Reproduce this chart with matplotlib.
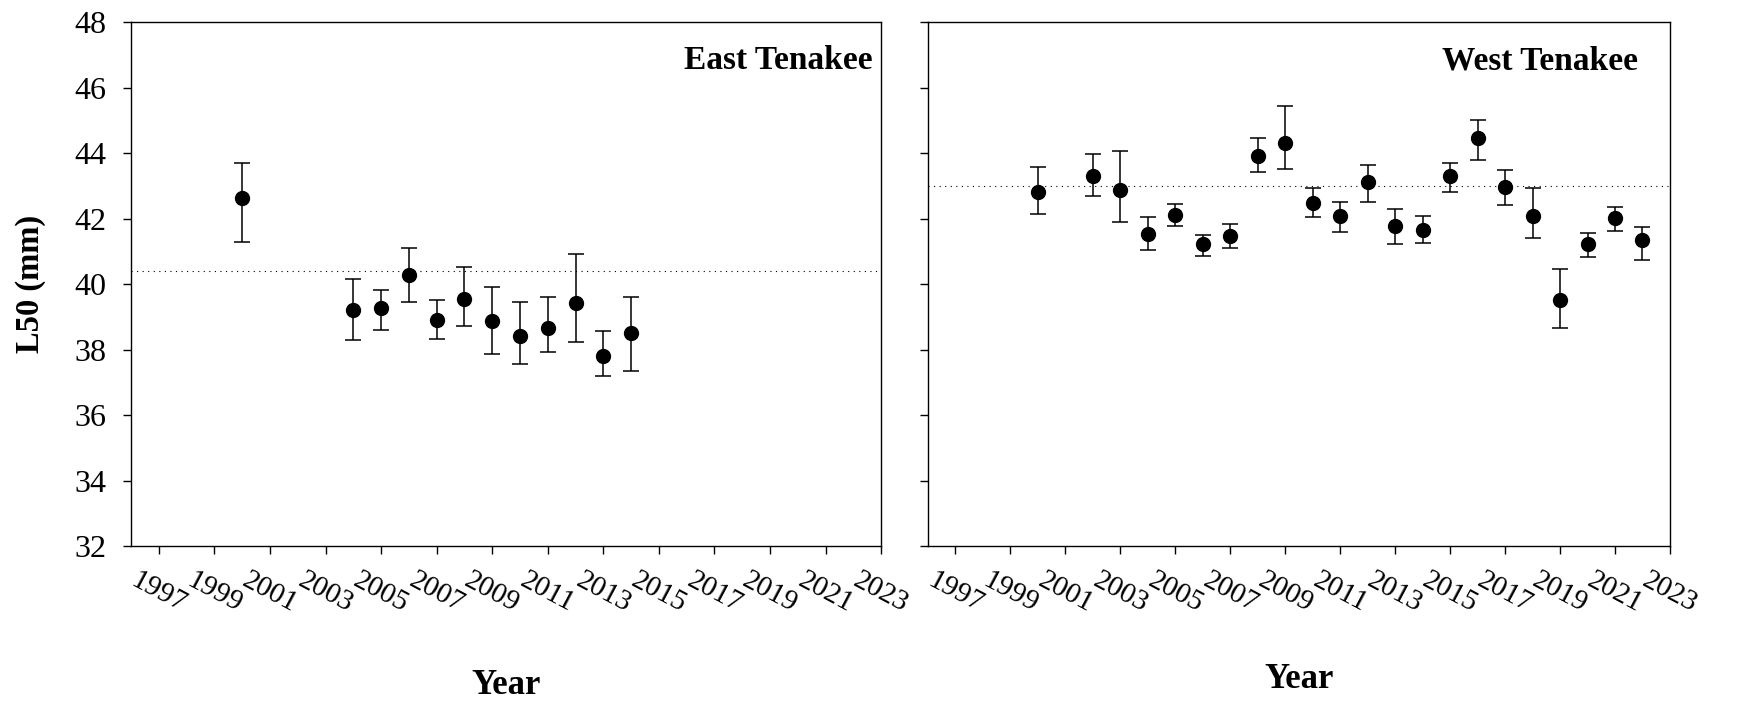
import numpy as np
import matplotlib
matplotlib.use("Agg")
import matplotlib.pyplot as plt
import matplotlib.transforms as mtransforms

plt.rcParams['font.family'] = ['Liberation Serif', 'DejaVu Serif']

# East Tenakee L50 estimates with lower / upper confidence bounds
east_years = [2000, 2004, 2005, 2006, 2007, 2008, 2009, 2010, 2011, 2012, 2013, 2014]
east_l50 = [42.62, 39.21, 39.26, 40.28, 38.90, 39.54, 38.88, 38.41, 38.67, 39.43, 37.81, 38.51]
east_lo = [41.28, 38.28, 38.60, 39.45, 38.32, 38.72, 37.86, 37.55, 37.92, 38.23, 37.20, 37.33]
east_hi = [43.71, 40.14, 39.82, 41.11, 39.51, 40.52, 39.90, 39.44, 39.60, 40.91, 38.56, 39.61]
east_mean = 40.39

# West Tenakee
west_years = [2000, 2002, 2003, 2004, 2005, 2006, 2007, 2008, 2009, 2010, 2011,
              2012, 2013, 2014, 2015, 2016, 2017, 2018, 2019, 2020, 2021, 2022]
west_l50 = [42.81, 43.30, 42.87, 41.52, 42.10, 41.22, 41.48, 43.92, 44.30, 42.47, 42.07,
            43.13, 41.76, 41.66, 43.29, 44.47, 42.95, 42.08, 39.52, 41.21, 42.02, 41.33]
west_lo = [42.15, 42.69, 41.88, 41.04, 41.76, 40.87, 41.10, 43.42, 43.51, 42.04, 41.58,
           42.49, 41.22, 41.26, 42.81, 43.80, 42.42, 41.41, 38.67, 40.82, 41.62, 40.74]
west_hi = [43.56, 43.96, 44.06, 42.06, 42.43, 41.51, 41.84, 44.46, 45.45, 42.94, 42.49,
           43.63, 42.28, 42.07, 43.70, 45.00, 43.49, 42.94, 40.45, 41.56, 42.36, 41.75]
west_mean = 43.0

xticks = list(range(1997, 2024, 2))
yticks = list(range(32, 49, 2))

fig = plt.figure(figsize=(17.43, 7.04), dpi=100)
ax1 = fig.add_axes([0.0752, 0.2244, 0.4303, 0.7443])
ax2 = fig.add_axes([0.5324, 0.2244, 0.4257, 0.7443])

panels = [
    (ax1, east_years, east_l50, east_lo, east_hi, east_mean, 'East Tenakee', 0.989),
    (ax2, west_years, west_l50, west_lo, west_hi, west_mean, 'West Tenakee', 0.957),
]

for ax, yrs, l50, lo, hi, m, name, tx in panels:
    l50 = np.array(l50)
    err = [l50 - np.array(lo), np.array(hi) - l50]
    ax.errorbar(yrs, l50, yerr=err, fmt='o', color='black', ms=10,
                elinewidth=1.1, capsize=5.8, capthick=1.1, zorder=3)
    ax.axhline(m, color='black', lw=0.8, linestyle=(0, (1, 4)), zorder=1)
    ax.set_xlim(1996, 2023)
    ax.set_ylim(32, 48)
    ax.set_xticks(xticks)
    ax.set_yticks(yticks)
    ax.tick_params(direction='out', length=5.5, width=1, labelsize=23, pad=12)
    ax.set_xticklabels([str(t) for t in xticks], rotation=-28, ha='center', fontsize=21)
    offset = mtransforms.ScaledTranslation(0.27, 0, fig.dpi_scale_trans)
    for lab in ax.get_xticklabels():
        lab.set_transform(lab.get_transform() + offset)
    ax.tick_params(axis='x', pad=10)
    for s in ax.spines.values():
        s.set_linewidth(1)
    ax.text(tx, 0.926, name, transform=ax.transAxes, ha='right', va='center',
            fontsize=24, fontweight='bold')

ax2.set_yticklabels([])
fig.text(31 / 1743, 0.2244 + 0.7443 / 2, 'L50 (mm)', rotation=90, ha='center', va='center',
         fontsize=23.5, fontweight='bold')
fig.text(0.2904, 1 - 686 / 704, 'Year', ha='center', va='center', fontsize=25, fontweight='bold')
fig.text(0.7453, 1 - 680 / 704, 'Year', ha='center', va='center', fontsize=25, fontweight='bold')

fig.savefig('out.png', dpi=100)
